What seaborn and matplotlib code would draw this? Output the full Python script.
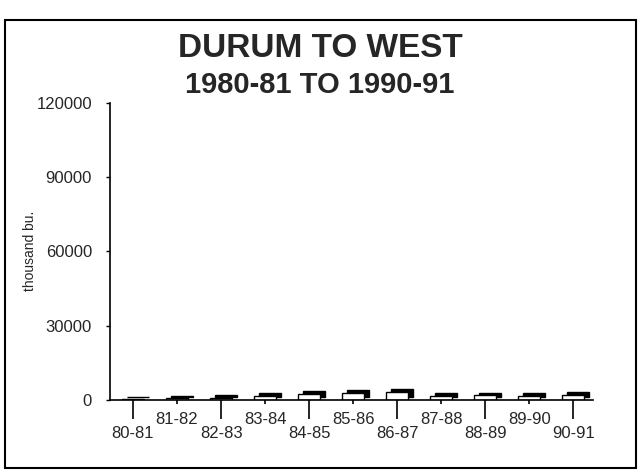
import matplotlib
matplotlib.use("Agg")
import matplotlib.pyplot as plt
import matplotlib.transforms as mtransforms
from matplotlib.patches import Rectangle
import pandas as pd
import seaborn as sns

# Data (thousand bu.)
years = ["80-81", "81-82", "82-83", "83-84", "84-85", "85-86",
         "86-87", "87-88", "88-89", "89-90", "90-91"]
shipments = [200, 600, 700, 1600, 2300, 2700, 3100, 1500, 1800, 1700, 2100]
y_ticks = [0, 30000, 60000, 90000, 120000]

df = pd.DataFrame({"year": years, "value": shipments})

sns.set_theme(style="white")
plt.rcParams["font.family"] = ["Liberation Sans", "DejaVu Sans"]

fig = plt.figure(figsize=(6.4, 4.76), dpi=100)
ax = fig.add_axes([0.172, 0.160, 0.755, 0.624])

sns.barplot(data=df, x="year", y="value", ax=ax, width=0.5,
            color="white", edgecolor="black", linewidth=1.0, saturation=1)

# fake 3D: a black copy of each bar pushed up and to the right
depth = mtransforms.offset_copy(ax.transData, fig, x=3.5, y=2.0, units="points")
for p in list(ax.patches):
    back = Rectangle(p.get_xy(), p.get_width(), p.get_height(),
                     transform=depth, facecolor="black", edgecolor="black",
                     linewidth=1.0, zorder=p.get_zorder() - 0.1)
    ax.add_patch(back)

ax.set_ylim(0, 120000)
ax.set_xlim(-0.52, 10.45)
ax.set_yticks(y_ticks, labels=[str(v) for v in y_ticks])

# staggered category labels: even ones low with long ticks, odd ones high
idx = list(range(len(years)))
ax.set_xticks(idx[0::2], labels=years[0::2])
ax.set_xticks(idx[1::2], labels=years[1::2], minor=True)
ax.tick_params(axis="x", which="major", direction="out", length=14, width=1.2,
               pad=5, labelsize=12, color="black", bottom=True)
ax.tick_params(axis="x", which="minor", direction="out", length=3, width=1.2,
               pad=5.5, labelsize=12, color="black", bottom=True)
ax.tick_params(axis="y", direction="out", length=3, width=1.0, pad=10,
               labelsize=12, color="black", left=True)

ax.set_xlabel("")
ax.set_ylabel("thousand bu.", fontsize=10)
ax.yaxis.set_label_coords(-0.151, 0.5)

sns.despine(ax=ax)
for side in ["left", "bottom"]:
    ax.spines[side].set_color("black")
    ax.spines[side].set_linewidth(1.2)

fig.text(0.5, 0.899, "DURUM TO WEST", ha="center", va="center",
         fontsize=24, fontweight="bold")
fig.text(0.5, 0.821, "1980-81 TO 1990-91", ha="center", va="center",
         fontsize=21, fontweight="bold")

# page frame around the chart
fig.patches.append(Rectangle((0.008, 0.017), 0.986, 0.941,
                             transform=fig.transFigure, fill=False,
                             edgecolor="black", linewidth=1.5))

fig.savefig("out.png", dpi=100)
